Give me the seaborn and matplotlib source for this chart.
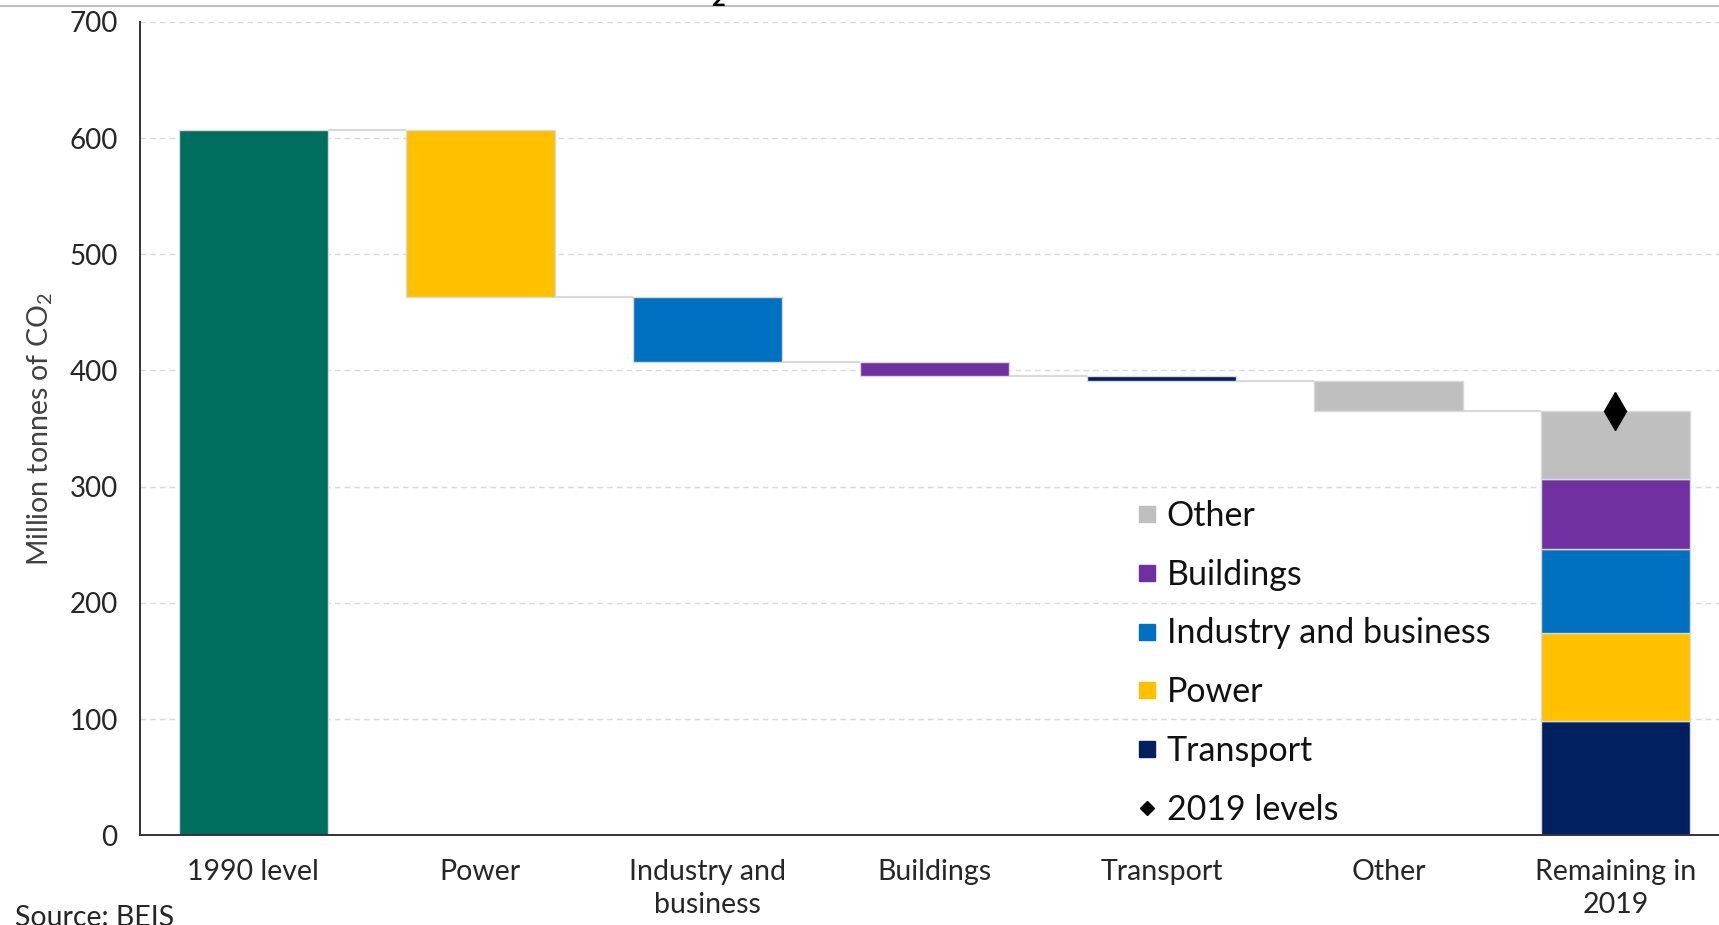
import matplotlib
matplotlib.use("Agg")
import matplotlib.pyplot as plt
from matplotlib.lines import Line2D
from matplotlib.ticker import FixedLocator
import seaborn as sns
import numpy as np

# Categories along the x axis
categories = ["1990 level", "Power", "Industry and\nbusiness", "Buildings",
              "Transport", "Other", "Remaining in\n2019"]

# Emissions in 1990 and the fall attributed to each sector (MtCO2)
level_1990 = 607
fall_sectors = ["Power", "Industry and business", "Buildings", "Transport", "Other"]
fall_values = [144, 56, 12, 4, 26]

# Emissions remaining in 2019 by sector, bottom to top of the stack
stack_sectors = ["Transport", "Power", "Industry and business", "Buildings", "Other"]
stack_values = [98, 76, 72, 61, 58]
level_2019 = 365

# Legend order
legend_sectors = ["Other", "Buildings", "Industry and business", "Power", "Transport"]

sector_colors = {
    "Power": "#FFC000",
    "Industry and business": "#0070C0",
    "Buildings": "#7030A0",
    "Transport": "#002060",
    "Other": "#BFBFBF",
}
base_color = "#006E5E"
edge_color = "#D9D9D9"
text_color = "#262626"

sns.set_theme(style="white")
plt.rcParams["font.family"] = ["Lato", "DejaVu Sans"]
plt.rcParams["mathtext.fontset"] = "custom"
plt.rcParams["mathtext.rm"] = "Lato"
plt.rcParams["mathtext.it"] = "Lato:italic"
plt.rcParams["mathtext.bf"] = "Lato:bold"

fig = plt.figure(figsize=(17.19, 9.25), dpi=100)
ax = fig.add_axes([0.0814, 0.0969, 0.9244, 0.8795])

BAR_W = 0.66


def draw_bar(cat, height, bottom, color):
    sns.barplot(x=[cat], y=[height], order=categories, color=color,
                width=BAR_W, bottom=bottom, errorbar=None, saturation=1,
                edgecolor=edge_color, linewidth=1, ax=ax, zorder=3)


# Starting bar
draw_bar(categories[0], level_1990, 0, base_color)

# Falling bars for each sector
running = level_1990
levels = [level_1990]
for cat, sector, fall in zip(categories[1:6], fall_sectors, fall_values):
    running -= fall
    draw_bar(cat, fall, running, sector_colors[sector])
    levels.append(running)

# Stacked bar of what remains in 2019
cum = 0
for sector, val in zip(stack_sectors, stack_values):
    draw_bar(categories[6], val, cum, sector_colors[sector])
    cum += val

# Connector lines between neighbouring bars
for i, lvl in enumerate(levels):
    ax.hlines(lvl, i + BAR_W / 2, i + 1 - BAR_W / 2, color=edge_color,
              lw=1.5, zorder=2)

# 2019 level marker
ax.plot([categories.index("Remaining in\n2019")], [level_2019], marker="d",
        ms=19, color="black", ls="none", zorder=5)

# Axes styling
ax.set_xlim(-0.5, len(categories) - 0.5)
ax.set_ylim(0, 700)
ax.set_yticks(np.arange(0, 701, 100))
ax.yaxis.grid(True, linestyle=(0, (4, 3)), color="#D9D9D9", lw=1)
ax.xaxis.grid(False)
ax.set_axisbelow(True)
for side in ("top", "right"):
    ax.spines[side].set_visible(False)
for side in ("left", "bottom"):
    ax.spines[side].set_color("#333333")
    ax.spines[side].set_linewidth(1.4)
    ax.spines[side].set_zorder(6)

ax.xaxis.set_minor_locator(FixedLocator(np.arange(-0.5, len(categories), 1.0)))
ax.tick_params(axis="x", which="major", length=0, pad=17, labelsize=20.5,
               labelcolor=text_color)
ax.tick_params(axis="x", which="minor", length=8, width=1.4, color="#333333",
               direction="out")
ax.tick_params(axis="y", length=7, width=1.4, color="#333333", direction="out",
               labelsize=20, labelcolor=text_color, pad=9)
ax.set_xticks(range(len(categories)))
ax.set_xticklabels(categories, linespacing=1.32)
ax.set_xlabel("")
ax.set_ylabel("Million tonnes of CO$_2$", fontsize=20.5, color="#404040",
              labelpad=10)

# Legend
handles = [Line2D([], [], marker="s", ms=12, ls="none",
                  color=sector_colors[s]) for s in legend_sectors]
handles.append(Line2D([], [], marker="D", ms=7.5, ls="none", color="black"))
labels = legend_sectors + ["2019 levels"]
ax.legend(handles, labels, loc="center left", bbox_to_anchor=(0.628, 0.212),
          frameon=False, fontsize=24.5, handlelength=0.55, handletextpad=0.3,
          labelspacing=0.79, borderpad=0, borderaxespad=0,
          labelcolor="#111111")

# Rule along the top of the figure and the subscript of the title above it
fig.add_artist(Line2D([0, 1], [1 - 6 / 925, 1 - 6 / 925],
                      transform=fig.transFigure, color="#BFBFBF", lw=1.5))
fig.text(718 / 1719, 1 - 6 / 925, "2", fontsize=17, fontweight="bold",
         ha="center", va="baseline", color="black")

# Source note
fig.text(15 / 1719, 1 - 905 / 925, "Source: BEIS", fontsize=20.5,
         color="#262626", ha="left", va="top")

fig.savefig("out.png", dpi=100)
